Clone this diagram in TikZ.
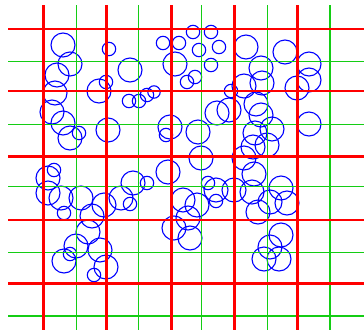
\documentclass[tikz,border=0pt]{standalone}
\begin{document}
\begin{tikzpicture}[x=1pt,y=-1pt,
  gridred/.style={draw={rgb,255:red,255;green,0;blue,0},line width=2.6pt},
  gridgreen/.style={draw={rgb,255:red,20;green,205;blue,20},line width=1.3pt},
  blob/.style={draw={rgb,255:red,0;green,0;blue,255},line width=1.1pt}]
\useasboundingbox (0,0) rectangle (364,330);
% circles
\foreach \cx/\cy/\r in {
 63/45/12, 70/64/12, 57/75/12, 55/93/12, 52/112/12, 63/123/12, 70/138/12, 79/133/6.7,
 109/49/6.7, 130/70/12, 99/91/12, 106/82/6.7, 129/101/6.7, 139/101/6.7, 147/95/6.7, 154/92/6.2,
 108/130/12, 163/43/6.7, 179/43/6.7, 193/32/6.7, 211/32/6.7, 199/50/6.7, 219/47/6.7, 175/64/12,
 211/65/6.7, 195/77/6.7, 187/82/6.7, 246/47/12, 285/52/12, 261/68/12, 309/64/12, 309/80/12,
 297/88/12, 262/83/12, 244/86/12, 231/91/6.7, 256/104/12, 229/110/12, 217/113/12, 261/115/12,
 309/124/12, 198/132/12, 272/129/12, 255/133/12, 253/147/12, 267/145/12, 201/158/12, 170/127/12,
 166/135/6.7, 244/158/12, 254/174/12,
 54/170/6.7, 48/178/12, 48/193/12, 61/198/12, 81/198/12, 64/213/6.7, 104/205/12, 92/216/12,
 121/198/12, 133/183/12, 147/183/6.7, 130/204/6.7, 168/172/12, 88/232/12, 76/246/12, 70/254/6.7,
 64/261/12, 100/250/12, 106/267/12, 94/275/6.7, 174/228/12, 183/200/12, 197/205/12, 188/218/12,
 190/238/12, 208/183/6.7, 216/190/12, 216/201/6.7, 234/190/12, 252/192/12, 281/188/12, 270/202/12,
 287/203/12, 258/212/12, 281/235/12, 270/247/12, 264/259/12, 279/259/12}
  \draw[blob] (\cx,\cy) circle[radius=\r pt];
% green grid lines
\foreach \gx in {76.5,138.5,201.7,267.3,330}
  \draw[gridgreen] (\gx,5) -- (\gx,330);
\foreach \gy in {61.7,124.3,186.7,252.7,316}
  \draw[gridgreen] (8,\gy) -- (364,\gy);
% red grid lines
\foreach \rx in {43.3,106.5,171.7,234.3,297.3}
  \draw[gridred] (\rx,5) -- (\rx,330);
\foreach \ry in {29,91,156.7,220,283.3}
  \draw[gridred] (8,\ry) -- (364,\ry);
\end{tikzpicture}
\end{document}
